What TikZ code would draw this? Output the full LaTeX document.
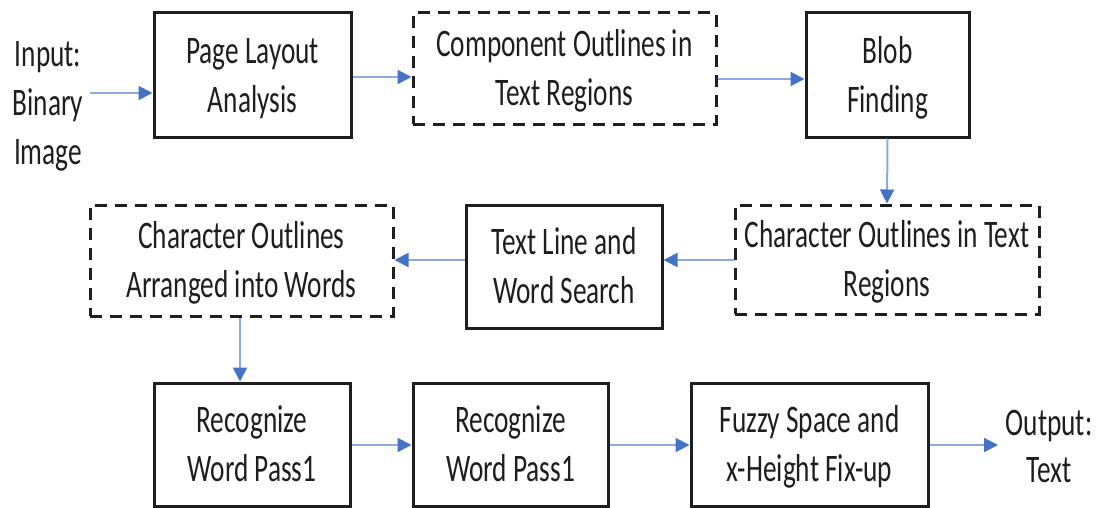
\documentclass[tikz,border=0pt]{standalone}
\usepackage{fontspec}
\setmainfont{Carlito}[FakeStretch=0.70]
\usetikzlibrary{arrows.meta}
\definecolor{flowblue}{RGB}{68,114,196}
\definecolor{linkblue}{RGB}{140,170,225}
\definecolor{ink}{RGB}{30,30,30}
% lines whose box runs from the cap height of the first line to the last baseline,
% so that the text sits visually centred in its frame
\newcommand\firstln[1]{\raisebox{0pt}[0.65em][0pt]{#1}}
\newcommand\lastln[1]{\raisebox{0pt}[0pt][0pt]{#1}}
\newcommand\twoln[2]{\firstln{#1}\\\lastln{#2}}
\newcommand\threeln[3]{\firstln{#1}\\\lastln{#2}\\\lastln{#3}}
\tikzset{
  stage/.style={draw=ink, line width=3pt, rectangle, align=center, text=ink,
    font=\fontsize{39}{49}\selectfont, inner sep=0pt},
  datum/.style={stage, dash pattern=on 12pt off 8pt},
  label/.style={align=center, text=ink, font=\fontsize{39}{49}\selectfont, inner sep=0pt},
  flow/.style={draw=linkblue, line width=2pt, -{Triangle[length=14pt,width=14pt,color=flowblue]}}
}
\begin{document}
\begin{tikzpicture}[x=1pt,y=-1pt]
\useasboundingbox (0,0) rectangle (1107,508);

% row one
\node[label] (inp) at (48,103) {\threeln{Input:}{Binary}{Image}};
\node[stage, minimum width=197pt, minimum height=125pt] (page) at (252.5,75) {\twoln{Page Layout}{Analysis}};
\node[datum, minimum width=303pt, minimum height=111pt] (comp) at (564.5,68.5) {\twoln{Component Outlines in}{Text Regions}};
\node[stage, minimum width=163pt, minimum height=124pt] (blob) at (887.5,75) {\twoln{Blob}{Finding}};

% row two
\node[datum, minimum width=304pt, minimum height=109pt] (cotr) at (887,259.5) {\twoln{Character Outlines in Text}{Regions}};
\node[stage, minimum width=196pt, minimum height=123pt] (tlws) at (564,266.5) {\twoln{Text Line and}{Word Search}};
\node[datum, minimum width=303pt, minimum height=111pt] (caw) at (241.5,260.5) {\twoln{Character Outlines}{Arranged into Words}};

% row three
\node[stage, minimum width=196pt, minimum height=123pt] (rw1) at (252,444.5) {\twoln{Recognize}{Word Pass1}};
\node[stage, minimum width=195pt, minimum height=123pt] (rw2) at (510.5,444.5) {\twoln{Recognize}{Word Pass1}};
\node[stage, minimum width=237pt, minimum height=123pt] (fuzzy) at (809.5,444.5) {\twoln{Fuzzy Space and}{x-Height Fix-up}};
\node[label, font=\fontsize{39}{47}\selectfont] (out) at (1049,446) {\twoln{Output:}{Text}};

% connectors
\coordinate (inp0) at (90,93);
\draw[flow] (inp0) -- (inp0 -| page.west);
\draw[flow] (page.east |- 0,77) -- (comp.west |- 0,77);
\draw[flow] (comp.east |- 0,79) -- (blob.west |- 0,79);
\draw[flow] (blob.south) -- (cotr.north);
\draw[flow] (cotr.west |- 0,260) -- (tlws.east |- 0,260);
\draw[flow] (tlws.west |- 0,260) -- (caw.east |- 0,260);
\draw[flow] (caw.south -| 240,0) -- (rw1.north -| 240,0);
\draw[flow] (rw1.east |- 0,445) -- (rw2.west |- 0,445);
\draw[flow] (rw2.east |- 0,445) -- (fuzzy.west |- 0,445);
\coordinate (out0) at (998,445);
\draw[flow] (fuzzy.east |- out0) -- (out0);
\end{tikzpicture}
\end{document}
